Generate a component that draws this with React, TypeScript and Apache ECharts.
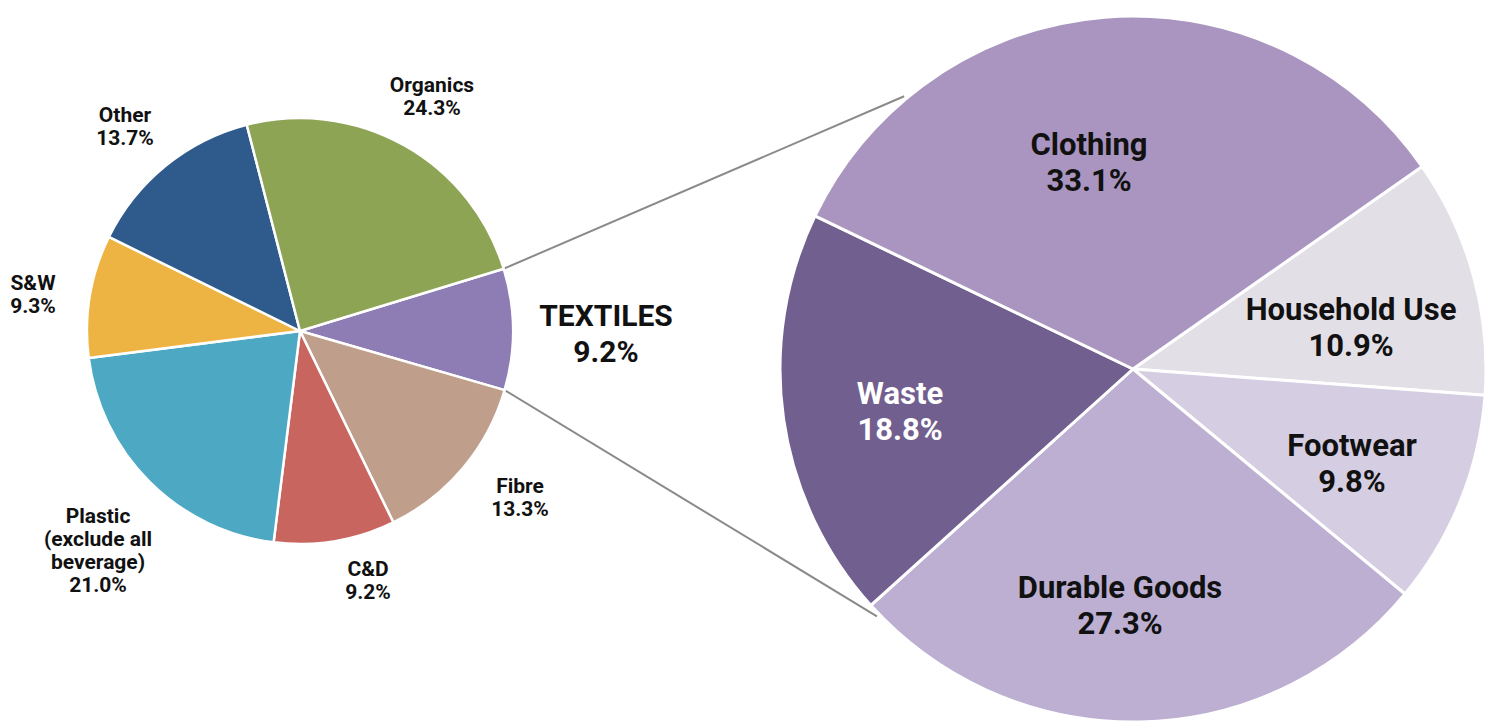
import React, { useEffect, useRef } from "react";
import * as echarts from "echarts";

// ---- Data ----
const mainNames = ["TEXTILES", "Fibre", "C&D", "Plastic\n(exclude all\nbeverage)", "S&W", "Other", "Organics"];
const mainValues = [9.2, 13.3, 9.2, 21.0, 9.3, 13.7, 24.3];
const mainColors = ["#8E7CB4", "#BF9F8C", "#C8655E", "#4DA9C3", "#EDB443", "#2F5B8C", "#8EA455"];

const subNames = ["Household Use", "Footwear", "Durable Goods", "Waste", "Clothing"];
const subValues = [10.9, 9.8, 27.3, 18.8, 33.1];
const subColors = ["#E3DFE6", "#D5CDE2", "#BCAFD2", "#71608F", "#A995BF"];
const subTextColors = ["#111111", "#111111", "#111111", "#FFFFFF", "#111111"];

// ---- Layout ----
const W = 1501;
const H = 728;
const mainCenter = [300, 331];
const mainRadius = 213;
const mainStart = 17;
const subCenter = [1133, 369];
const subRadius = 353;
const subStart = 35;
const mainLabelPos = [
  [606, 333],
  [520, 497],
  [368, 580],
  [98, 550],
  [33, 294],
  [125, 126],
  [432, 96],
];
const subLabelPos = [
  [1351, 327],
  [1352, 463],
  [1120, 605],
  [900, 411],
  [1089, 162],
];
const connectorEndAngles = [130, -136];

function pt(c: number[], r: number, deg: number) {
  const a = (deg * Math.PI) / 180;
  return [c[0] + r * Math.cos(a), c[1] - r * Math.sin(a)];
}

export default function App() {
  const ref = useRef<HTMLDivElement>(null);
  useEffect(() => {
    if (!ref.current) return;
    const chart = echarts.init(ref.current, null, { renderer: "svg" });
    const total = mainValues.reduce((a, b) => a + b, 0);
    const textilesSpan = (mainValues[0] / total) * 360;
    const s1 = pt(mainCenter, mainRadius, mainStart);
    const s2 = pt(mainCenter, mainRadius, mainStart - textilesSpan);
    const e1 = pt(subCenter, subRadius + 3, connectorEndAngles[0]);
    const e2 = pt(subCenter, subRadius + 3, connectorEndAngles[1]);
    const font = "Roboto, 'Noto Sans', sans-serif";

    chart.setOption({
      animation: false,
      backgroundColor: "#ffffff",
      graphic: [
        {
          type: "line",
          z: 1,
          shape: { x1: s1[0], y1: s1[1], x2: e1[0], y2: e1[1] },
          style: { stroke: "#8a8a8a", lineWidth: 2 },
        },
        {
          type: "line",
          z: 1,
          shape: { x1: s2[0], y1: s2[1], x2: e2[0], y2: e2[1] },
          style: { stroke: "#8a8a8a", lineWidth: 2 },
        },
      ],
      series: [
        {
          type: "pie",
          center: mainCenter,
          radius: mainRadius,
          startAngle: mainStart,
          clockwise: true,
          silent: true,
          z: 3,
          avoidLabelOverlap: false,
          itemStyle: { borderColor: "#ffffff", borderWidth: 2.5 },
          label: {
            show: true,
            position: "outside",
            color: "#111111",
            fontFamily: font,
            fontWeight: "bold",
            fontSize: 21,
            lineHeight: 23,
            formatter: (p: any) => `${p.name}\n${p.value.toFixed(1)}%`,
          },
          labelLine: { show: false },
          labelLayout: (p: any) => {
            const q = mainLabelPos[p.dataIndex];
            return { x: q[0], y: q[1], align: "center", verticalAlign: "middle" };
          },
          data: mainNames.map((n, i) => ({
            name: n,
            value: mainValues[i],
            itemStyle: { color: mainColors[i] },
            label: i === 0 ? { fontSize: 30, lineHeight: 36 } : undefined,
          })),
        },
        {
          type: "pie",
          center: subCenter,
          radius: subRadius,
          startAngle: subStart,
          clockwise: true,
          silent: true,
          z: 3,
          avoidLabelOverlap: false,
          itemStyle: { borderColor: "#ffffff", borderWidth: 3 },
          label: {
            show: true,
            position: "inside",
            fontFamily: font,
            fontWeight: "bold",
            fontSize: 31,
            lineHeight: 36,
            formatter: (p: any) => `${p.name}\n${p.value.toFixed(1)}%`,
          },
          labelLine: { show: false },
          labelLayout: (p: any) => {
            const q = subLabelPos[p.dataIndex];
            return { x: q[0], y: q[1], align: "center", verticalAlign: "middle" };
          },
          data: subNames.map((n, i) => ({
            name: n,
            value: subValues[i],
            itemStyle: { color: subColors[i] },
            label: { color: subTextColors[i] },
          })),
        },
      ],
    });
    return () => chart.dispose();
  }, []);
  return (
    <div
      ref={ref}
      style={{ position: "fixed", left: 0, top: 0, width: W, height: H, background: "#fff" }}
    />
  );
}
